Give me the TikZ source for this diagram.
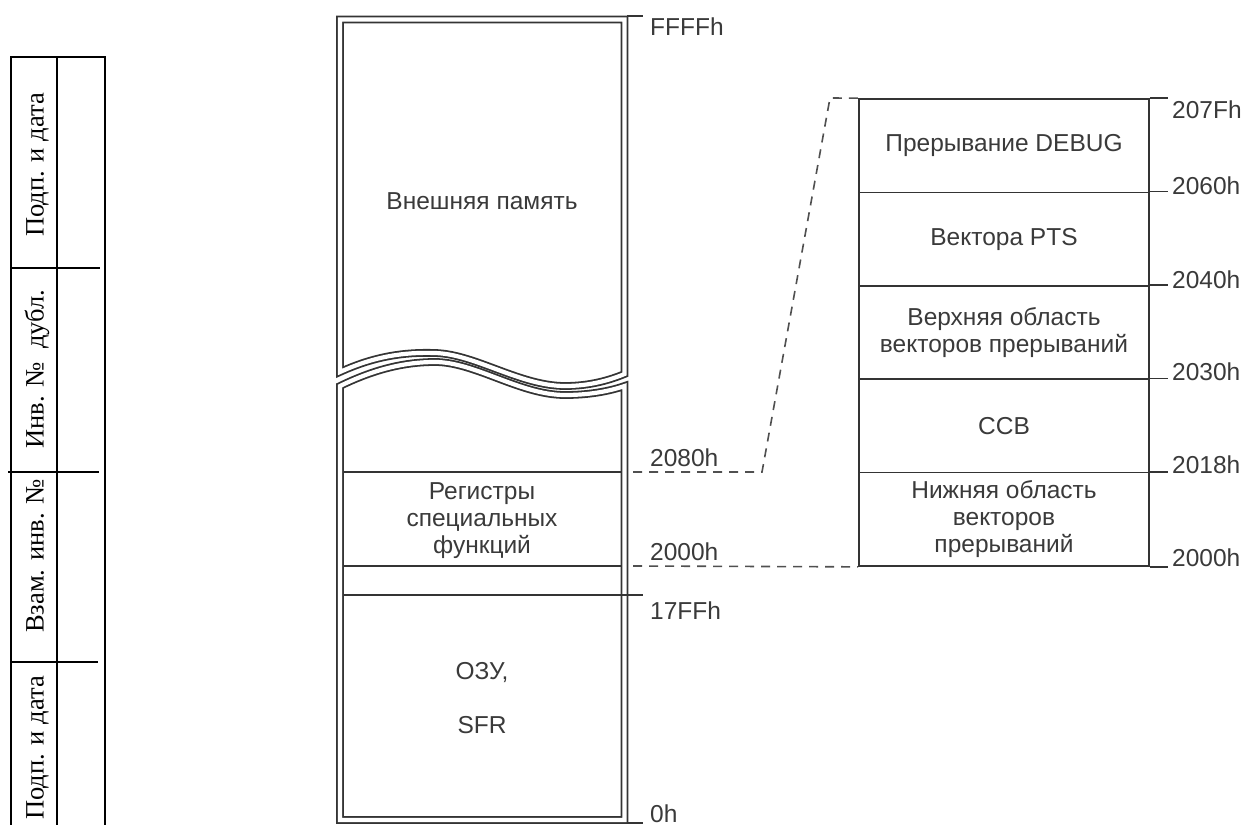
\documentclass[tikz,border=0pt]{standalone}
\usepackage{fontspec}
\setmainfont{Liberation Sans}
\newfontfamily\stampfont{Liberation Serif}
\definecolor{fcol}{RGB}{52,52,52}
\definecolor{tcol}{RGB}{58,58,58}
\definecolor{dcol}{RGB}{80,80,80}
\begin{document}
\begin{tikzpicture}[x=1pt,y=-1pt,
  frame/.style={draw=fcol, line width=1.8pt, double=white, double distance=4.2pt, line join=miter},
  sep/.style={draw=fcol, line width=1.7pt},
  tickline/.style={draw=fcol, line width=1.7pt},
  dashlink/.style={draw=dcol, line width=1.6pt, dash pattern=on 9pt off 7pt},
  txt/.style={text=tcol, font=\fontsize{24.5}{27}\selectfont, inner sep=0pt, align=center},
  addr/.style={txt, anchor=base west},
  rbox/.style={draw=fcol, line width=1.7pt, minimum width=290pt, minimum height=93.4pt, inner sep=0pt, text=tcol, font=\fontsize{24.5}{27}\selectfont, align=center},
  stampline/.style={draw=black, line width=1.8pt},
  stamptxt/.style={font=\stampfont\fontsize{26.5}{28}\selectfont, rotate=90, inner sep=0pt, anchor=base}
]
\useasboundingbox (0,0) rectangle (1243,825);

% ---- stamp table on the left ----
\draw[stampline] (11,825) -- (11,57) -- (105,57) -- (105,825);
\draw[stampline] (57,57) -- (57,825);
\draw[stampline] (11,268) -- (100,268);
\draw[stampline] (8,472) -- (99,472);
\draw[stampline] (11,662) -- (98,662);
\node[stamptxt] (s1) at (43.5,165) {Подп. и дата};
\node[stamptxt] (s2) at (43.5,369) {Инв. №\ \ дубл.};
\node[stamptxt] (s3) at (43.5,556) {Взам. инв. №};
\node[stamptxt] (s4) at (43.5,748) {Подп. и дата};

% ---- memory column ----
\draw[frame] (624.5,374) -- (624.5,19.5) -- (340,19.5) -- (340,372)
  .. controls (375,356) and (405,352) .. (435,353)
  .. controls (475,354) and (520,386) .. (565,386)
  .. controls (590,386) and (610,380) .. cycle;
\draw[frame] (340,386)
  .. controls (375,369) and (405,362) .. (435,362)
  .. controls (475,362) and (520,395) .. (565,395)
  .. controls (590,395) and (610,391) .. (624.5,386)
  -- (624.5,820) -- (340,820) -- cycle;

\coordinate (l2080) at (622,472);
\coordinate (l2000) at (622,566);
\draw[sep] (343,472) -- (l2080);
\draw[sep] (343,566) -- (l2000);
\draw[sep] (343,595) -- (643,595);
\draw[tickline] (627,16) -- (643,16);
\draw[tickline] (627,823) -- (643,823);

\node[txt] (ext) at (482,201) {Внешняя память};
\node[txt] (sfr) at (482,521) {Регистры\\специальных\\функций};
\node[txt] (ram) at (482,698) {ОЗУ,\\[26.5pt]SFR};

\node[addr] (aFFFF) at (650,35) {FFFFh};
\node[addr] (a2080) at (650,466) {2080h};
\node[addr] (a2000) at (650,560) {2000h};
\node[addr] (a17FF) at (650,619) {17FFh};
\node[addr] (a0) at (650,822) {0h};

% ---- expanded column ----
\node[rbox] (r1) at (1004,145.7) {Прерывание DEBUG};
\node[rbox] (r2) at (1004,239.1) {Вектора PTS};
\node[rbox] (r3) at (1004,332.5) {Верхняя область\\векторов прерываний};
\node[rbox] (r4) at (1004,425.9) {CCB};
\node[rbox] (r5) at (1004,519.3) {Нижняя область\\векторов\\прерываний};

\foreach \n in {1,...,5}{
  \draw[tickline] (r\n.north east) -- ++(18,0);
}
\draw[tickline] (r5.south east) -- ++(18,0);

\node[addr] (b207F) at (1172,118) {207Fh};
\node[addr] (b2060) at (1172,194) {2060h};
\node[addr] (b2040) at (1172,288) {2040h};
\node[addr] (b2030) at (1172,380) {2030h};
\node[addr] (b2018) at (1172,473) {2018h};
\node[addr] (b2000) at (1172,566) {2000h};

% ---- dashed links ----
\coordinate (k1) at (762,472);
\coordinate (k2) at (830,98);
\draw[dashlink] (633,472) -- (k1) -- (k2) -- (r1.north west);
\draw[dashlink] (633,566) -- (r5.south west);
\end{tikzpicture}
\end{document}
